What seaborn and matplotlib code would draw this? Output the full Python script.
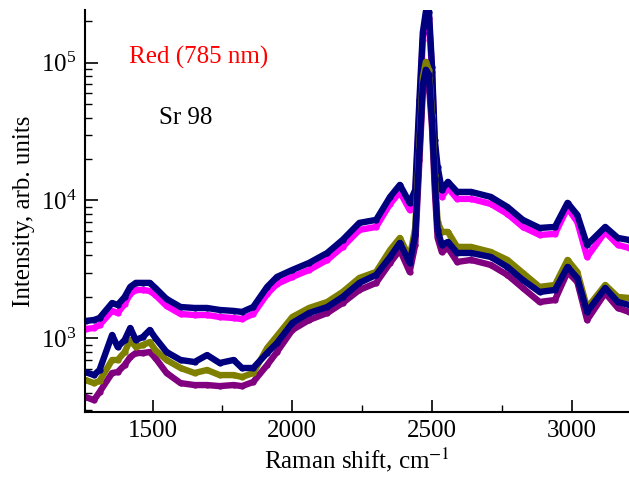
import numpy as np
import pandas as pd
import matplotlib
matplotlib.use("Agg")
import matplotlib.pyplot as plt
import seaborn as sns
from matplotlib.ticker import LogLocator, MultipleLocator, NullFormatter

# Raman shift grid, cm^-1
shift = [1260, 1290, 1310, 1355, 1375, 1400, 1420, 1440, 1465, 1490, 1510, 1550,
         1600, 1650, 1695, 1740, 1790, 1820, 1860, 1910, 1945, 2000, 2060, 2125,
         2180, 2240, 2300, 2350, 2385, 2420, 2440, 2455, 2467, 2478, 2489, 2500,
         2510, 2520, 2535, 2557, 2590, 2640, 2710, 2770, 2825, 2885, 2940, 2985,
         3020, 3055, 3120, 3165, 3205]

# intensities (arb. units)
navy_high = [1336, 1358, 1403, 1803, 1746, 1995, 2360, 2524, 2524, 2524, 2319, 1929,
             1687, 1660, 1660, 1606, 1580, 1554, 1687, 2360, 2787, 3133, 3523, 4162,
             5174, 6879, 7230, 10620, 12980, 9610, 11940, 53770, 164900, 234600, 234600, 93300,
             27540, 17540, 11940, 13650, 11540, 11540, 10620, 8970, 7230, 6320, 6430, 9610,
             7860, 4765, 6430, 5350, 5174]
magenta = [1168, 1188, 1249, 1580, 1526, 1775, 2097, 2243, 2243, 2205, 2063, 1716,
           1501, 1476, 1476, 1428, 1403, 1380, 1501, 2097, 2480, 2787, 3133, 3704,
           4603, 6115, 6430, 9448, 11540, 8550, 10620, 45500, 146700, 215400, 211900, 85900,
           23300, 15350, 10620, 12350, 10270, 10270, 9448, 7993, 6430, 5626, 5721, 8837,
           6992, 3895, 5915, 4765, 4526]
purple = [375, 356, 407, 560, 569, 640, 731, 782, 782, 795, 719, 560,
          473, 458, 458, 450, 458, 450, 482, 640, 795, 1149, 1358, 1526,
          1803, 2243, 2524, 3523, 4377, 3031, 4765, 19720, 61450, 77700, 69100, 33650,
          11940, 5350, 4234, 4526, 3582, 3704, 3407, 2883, 2319, 1835, 1897, 3031,
          2564, 1358, 2133, 1660, 1554]
olive = [498, 473, 490, 696, 696, 795, 972, 865, 894, 940, 822, 696,
         609, 560, 589, 541, 541, 524, 560, 850, 1039, 1428, 1660, 1835,
         2169, 2741, 3031, 4377, 5350, 3830, 6320, 25340, 77700, 101500, 88800, 41840,
         15350, 6992, 5915, 5915, 4603, 4603, 4234, 3704, 2981, 2360, 2438, 3704,
         3031, 1660, 2438, 1995, 1963]
navy_low = [569, 541, 589, 1057, 865, 972, 1188, 972, 1022, 1149, 1005, 795,
            696, 673, 756, 662, 696, 609, 609, 782, 924, 1292, 1526, 1687,
            1995, 2524, 2883, 3895, 4921, 3523, 5626, 23300, 69100, 88800, 82000, 38500,
            14130, 6115, 4765, 5004, 4162, 4162, 3895, 3295, 2651, 2169, 2243, 3295,
            2741, 1554, 2319, 1835, 1746]

series_names = ["magenta", "navy_high", "purple", "olive", "navy_low"]
series_values = [magenta, navy_high, purple, olive, navy_low]
palette = {"magenta": "#ff00ff", "navy_high": "#00007f", "purple": "#800080",
           "olive": "#808000", "navy_low": "#00007f"}

df = pd.concat([pd.DataFrame({"shift": shift, "intensity": v, "series": n})
                for n, v in zip(series_names, series_values)], ignore_index=True)

sns.set_style("ticks")
plt.rcParams["font.family"] = ["Liberation Serif", "DejaVu Serif"]
plt.rcParams["mathtext.fontset"] = "stix"
plt.rcParams["text.color"] = "black"
plt.rcParams["axes.labelcolor"] = "black"
plt.rcParams["xtick.color"] = "black"
plt.rcParams["ytick.color"] = "black"
plt.rcParams["axes.edgecolor"] = "black"

fig = plt.figure(figsize=(6.29, 4.79), dpi=100)
ax = fig.add_axes([0.1351, 0.1399, 0.8649, 0.8392])

for n in series_names:
    sns.lineplot(data=df[df["series"] == n], x="shift", y="intensity", ax=ax,
                 color=palette[n], lw=4.6, marker="o", markersize=4.5,
                 markeredgewidth=0, legend=False, sort=False, estimator=None)

ax.set_yscale("log")
ax.set_xlim(1258, 3205)
ax.set_ylim(292, 241000)

ax.xaxis.set_major_locator(MultipleLocator(500))
ax.xaxis.set_minor_locator(MultipleLocator(250))
ax.yaxis.set_major_locator(LogLocator(base=10, numticks=10))
ax.yaxis.set_minor_locator(LogLocator(base=10, subs=np.arange(2, 10), numticks=20))
ax.yaxis.set_minor_formatter(NullFormatter())
ax.tick_params(which="major", direction="in", length=9, width=1.2, labelsize=18, pad=6)
ax.tick_params(which="minor", direction="in", length=5, width=1.0)

for side in ["top", "right"]:
    ax.spines[side].set_visible(False)
for side in ["left", "bottom"]:
    ax.spines[side].set_linewidth(1.5)

ax.set_xlabel("Raman shift, cm$^{-1}$", fontsize=18, labelpad=2)
ax.set_ylabel("Intensity, arb. units", fontsize=18, labelpad=4)

ax.text(0.081, 0.883, "Red (785 nm)", color="red", fontsize=18,
        transform=ax.transAxes, va="center", ha="left")
ax.text(0.136, 0.731, "Sr 98", color="black", fontsize=18,
        transform=ax.transAxes, va="center", ha="left")

fig.savefig("out.png", dpi=100)
